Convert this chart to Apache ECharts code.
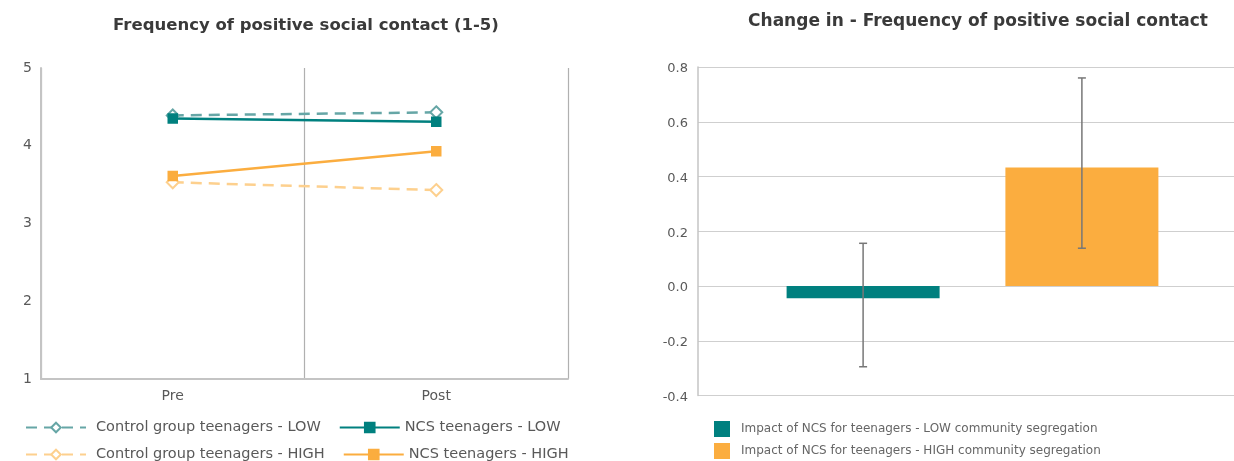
<!DOCTYPE html>
<html>
<head>
<meta charset="utf-8">
<script src="https://cdn.jsdelivr.net/npm/echarts@6/dist/echarts.min.js"></script>
<style>
html,body{margin:0;padding:0;background:#fff;}
#c{width:1234px;height:461px;}
</style>
</head>
<body>
<div id="c"></div>
<script>
// ---- data ----
const categories = ['Pre', 'Post'];
const controlLow = [4.39, 4.43];
const ncsLow = [4.35, 4.31];
const controlHigh = [3.53, 3.43];
const ncsHigh = [3.61, 3.93];
const lineNames = ['Control group teenagers - LOW', 'NCS teenagers - LOW', 'Control group teenagers - HIGH', 'NCS teenagers - HIGH'];

const impactNames = ['Impact of NCS for teenagers - LOW community segregation', 'Impact of NCS for teenagers - HIGH community segregation'];
const impactValues = [-0.045, 0.433];
const ciLower = [-0.295, 0.138];
const ciUpper = [0.156, 0.76];

// ---- styles ----
const FONT = '"DejaVu Sans", "Noto Sans", sans-serif';
const TEAL = '#00807f', TEAL_LIGHT = '#66a6a6', ORANGE = '#fbad3f', ORANGE_LIGHT = '#fdd08e';
const BAR_W = 153, BAR_GAP = 0.43;

const chart = echarts.init(document.getElementById('c'), null, {renderer: 'canvas'});

function lineSeries(name, data, color, dashed) {
  return {
    name, type: 'line', xAxisIndex: 0, yAxisIndex: 0, data,
    symbol: dashed ? 'emptyDiamond' : 'rect',
    symbolSize: dashed ? 12 : 9,
    showSymbol: true,
    lineStyle: {color, width: 2.5, type: dashed ? [11, 7] : 'solid'},
    itemStyle: {color, borderColor: color, borderWidth: 1.5},
    emphasis: {disabled: true}
  };
}

const legendText = {fontFamily: FONT, fontSize: 14.5, color: '#595959'};
const ctrlText = {width: 231, padding: [0, 0, 0, 5]};
const ncsText = {padding: [0, 0, 0, 0]};
const legendText2 = {fontFamily: FONT, fontSize: 12, color: '#666', padding: [0, 0, 0, 6]};

const option = {
  animation: false,
  textStyle: {fontFamily: FONT},
  title: [
    {text: 'Frequency of positive social contact (1-5)', left: 301, textAlign: 'center', top: 12,
     textStyle: {fontFamily: FONT, fontSize: 16.5, fontWeight: 'bold', color: '#3a3a3a'}},
    {text: 'Change in - Frequency of positive social contact', left: 973, textAlign: 'center', top: 8,
     textStyle: {fontFamily: FONT, fontSize: 17, fontWeight: 'bold', color: '#3a3a3a'}}
  ],
  legend: [
    {data: [{name: lineNames[0], textStyle: ctrlText}, {name: lineNames[1], textStyle: ncsText}],
     left: 20, top: 415, itemWidth: 60, itemHeight: 12, itemGap: 18, textStyle: legendText},
    {data: [{name: lineNames[2], textStyle: ctrlText}, {name: lineNames[3], textStyle: ncsText}],
     left: 20, top: 442, itemWidth: 60, itemHeight: 12, itemGap: 18, textStyle: legendText},
    {data: [impactNames[0]], left: 709, top: 416, itemWidth: 16, itemHeight: 16, icon: 'rect', textStyle: legendText2},
    {data: [impactNames[1]], left: 709, top: 438, itemWidth: 16, itemHeight: 16, icon: 'rect', textStyle: legendText2}
  ],
  grid: [
    {left: 41, top: 68, width: 527, height: 311, outerBoundsMode: 'none'},
    {left: 698, top: 67, width: 549, height: 328.5, outerBoundsMode: 'none'}
  ],
  xAxis: [
    {type: 'category', gridIndex: 0, data: categories, boundaryGap: true,
     axisLine: {lineStyle: {color: '#c4c4c4', width: 2}},
     axisTick: {show: false},
     axisLabel: {color: '#595959', fontSize: 14, margin: 10, fontFamily: FONT},
     splitLine: {show: true, lineStyle: {color: '#b0b0b0', width: 1.2}}},
    {type: 'category', gridIndex: 1, data: ['x'], show: false}
  ],
  yAxis: [
    {type: 'value', gridIndex: 0, min: 1, max: 5, interval: 1,
     axisLine: {show: true, lineStyle: {color: '#c4c4c4', width: 2}},
     axisTick: {show: false},
     axisLabel: {color: '#595959', fontSize: 14, margin: 9, fontFamily: FONT},
     splitLine: {show: false}},
    {type: 'value', gridIndex: 1, min: -0.4, max: 0.8, interval: 0.2,
     axisLine: {show: true, lineStyle: {color: '#c4c4c4', width: 1.5}},
     axisTick: {show: false},
     axisLabel: {color: '#595959', fontSize: 13, margin: 10, fontFamily: FONT, verticalAlign: 'top', lineHeight: 14, padding: [-5, 0, 0, 0],
       formatter: v => v.toFixed(1)},
     splitLine: {show: true, lineStyle: {color: '#cfcfcf', width: 1.2}}}
  ],
  series: [
    lineSeries(lineNames[0], controlLow, TEAL_LIGHT, true),
    lineSeries(lineNames[2], controlHigh, ORANGE_LIGHT, true),
    lineSeries(lineNames[3], ncsHigh, ORANGE, false),
    lineSeries(lineNames[1], ncsLow, TEAL, false),
    {name: impactNames[0], type: 'bar', xAxisIndex: 1, yAxisIndex: 1, data: [impactValues[0]],
     barWidth: BAR_W, barGap: (BAR_GAP * 100) + '%', itemStyle: {color: TEAL}, emphasis: {disabled: true}},
    {name: impactNames[1], type: 'bar', xAxisIndex: 1, yAxisIndex: 1, data: [impactValues[1]],
     barWidth: BAR_W, barGap: (BAR_GAP * 100) + '%', itemStyle: {color: ORANGE}, emphasis: {disabled: true}},
    {type: 'custom', xAxisIndex: 1, yAxisIndex: 1, z: 10,
     data: impactValues.map((v, i) => [0, ciLower[i], ciUpper[i], i]),
     renderItem: function (params, api) {
       const i = api.value(3);
       const off = (2 * i - 1) * BAR_W * (1 + BAR_GAP) / 2;
       const lo = api.coord([api.value(0), api.value(1)]);
       const hi = api.coord([api.value(0), api.value(2)]);
       const x = lo[0] + off;
       const cap = 4;
       const st = {stroke: '#777', lineWidth: 1.5};
       return {type: 'group', children: [
         {type: 'line', shape: {x1: x, y1: lo[1], x2: x, y2: hi[1]}, style: st},
         {type: 'line', shape: {x1: x - cap, y1: lo[1], x2: x + cap, y2: lo[1]}, style: st},
         {type: 'line', shape: {x1: x - cap, y1: hi[1], x2: x + cap, y2: hi[1]}, style: st}
       ]};
     }}
  ]
};
chart.setOption(option);
</script>
</body>
</html>
